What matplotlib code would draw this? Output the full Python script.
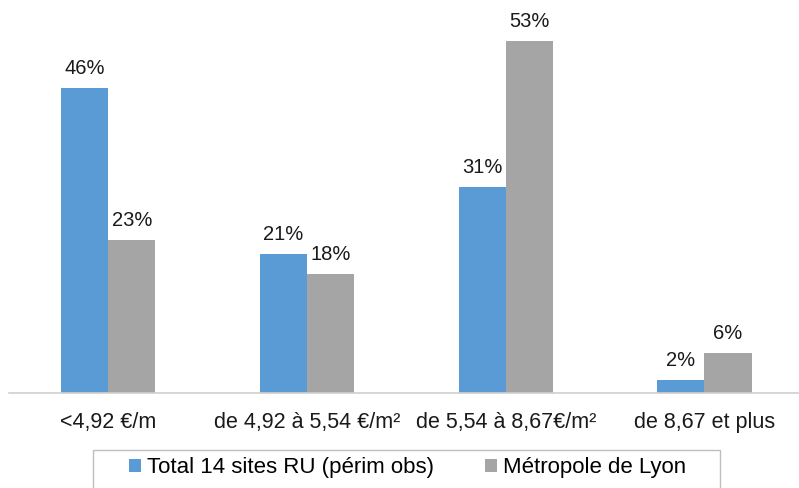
import matplotlib.pyplot as plt
from matplotlib.patches import Rectangle
import numpy as np

plt.rcParams['font.family'] = ['Liberation Sans', 'DejaVu Sans']

categories = ['<4,92 €/m', 'de 4,92 à 5,54 €/m²', 'de 5,54 à 8,67€/m²', 'de 8,67 et plus']
total_sites = [46, 21, 31, 2]
metropole = [23, 18, 53, 6]
series_names = ['Total 14 sites RU (périm obs)', 'Métropole de Lyon']

W, H = 799, 488
fig = plt.figure(figsize=(W / 100, H / 100), dpi=100)
ax = fig.add_axes([0.011, 1 - 393 / H, 0.995, 0.748])

x = np.arange(len(categories))
w = 0.237
b1 = ax.bar(x - w / 2, total_sites, w, color='#5B9BD5', label=series_names[0])
b2 = ax.bar(x + w / 2, metropole, w, color='#A5A5A5', label=series_names[1])

for bars, vals in ((b1, total_sites), (b2, metropole)):
    for r, v in zip(bars, vals):
        ax.text(r.get_x() + r.get_width() / 2, v + 1.5, f'{v}%',
                ha='center', va='bottom', fontsize=14.5, color='#1a1a1a')

ax.set_xlim(-0.5, 3.5)
ax.set_ylim(0, 55)
ax.set_yticks([])
ax.set_xticks(x)
ax.set_xticklabels(categories, fontsize=15.5, color='#1a1a1a')
ax.tick_params(axis='x', length=0, pad=14)
for s in ('top', 'right', 'left'):
    ax.spines[s].set_visible(False)
ax.spines['bottom'].set_color('#D0D0D0')
ax.spines['bottom'].set_linewidth(1.2)

# legend box runs off the bottom of the figure
fig.patches.append(Rectangle((93 / W, -0.05), (720 - 93) / W, 0.05 + 1 - 450 / H,
                             transform=fig.transFigure, fill=False,
                             edgecolor='#BFBFBF', linewidth=1.0))
fig.legend(loc='center', bbox_to_anchor=(0.51, 1 - 468 / H), ncol=2,
           fontsize=16, frameon=False, handlelength=0.55, handleheight=0.55,
           handletextpad=0.25, columnspacing=2.3, borderpad=0)

fig.savefig('out.png', dpi=100)
